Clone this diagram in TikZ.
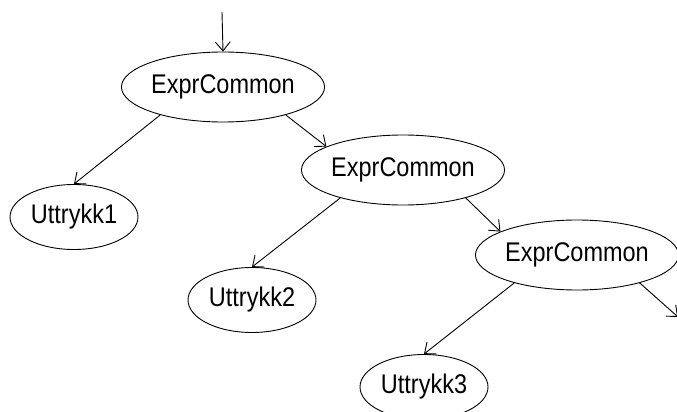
\documentclass[tikz,border=0pt]{standalone}
\usepackage{fontspec}
\setmainfont{Liberation Sans}
\newfontfamily\nodefont[FakeStretch=0.87]{Liberation Sans}
\usetikzlibrary{arrows.meta,shapes.geometric,positioning}

\begin{document}
\begin{tikzpicture}[x=1pt,y=-1pt,
        line width=0.9pt,>={Straight Barb[length=9pt,width=15pt]},
        expr/.style = {draw,ellipse,inner sep=0pt,minimum width=198pt,minimum height=70pt,
                       font=\nodefont\fontsize{27}{30}\selectfont},
        leaf/.style = {draw,ellipse,inner sep=0pt,minimum width=128pt,minimum height=65pt,
                       font=\nodefont\fontsize{27}{30}\selectfont}
        ]
        \useasboundingbox (0,0) rectangle (677,412);

        %Baum
        \node[coordinate] (in) at (222,12) {};
        \node[expr] (e1) at (223,87)  {ExprCommon};
        \node[expr] (e2) at (403,170) {ExprCommon};
        \node[expr] (e3) at (577,255) {ExprCommon};
        \node[leaf] (u1) at (74,217)  {Uttrykk1};
        \node[leaf] (u2) at (252,300) {Uttrykk2};
        \node[leaf] (u3) at (424,387) {Uttrykk3};
        \node[coordinate] (out) at (678,317) {};

        %Kanten
        \draw[->] (in) -- (e1.north);
        \foreach \p/\c in {e1/u1,e2/u2,e3/u3}
        \draw[->] (\p.204) -- (\c.north);
        \foreach \p/\c in {e1/e2,e2/e3}
        \draw[->] (\p.336) -- (\c.163);
        \draw[->] (e3.336) -- (out);

    \end{tikzpicture}
\end{document}
